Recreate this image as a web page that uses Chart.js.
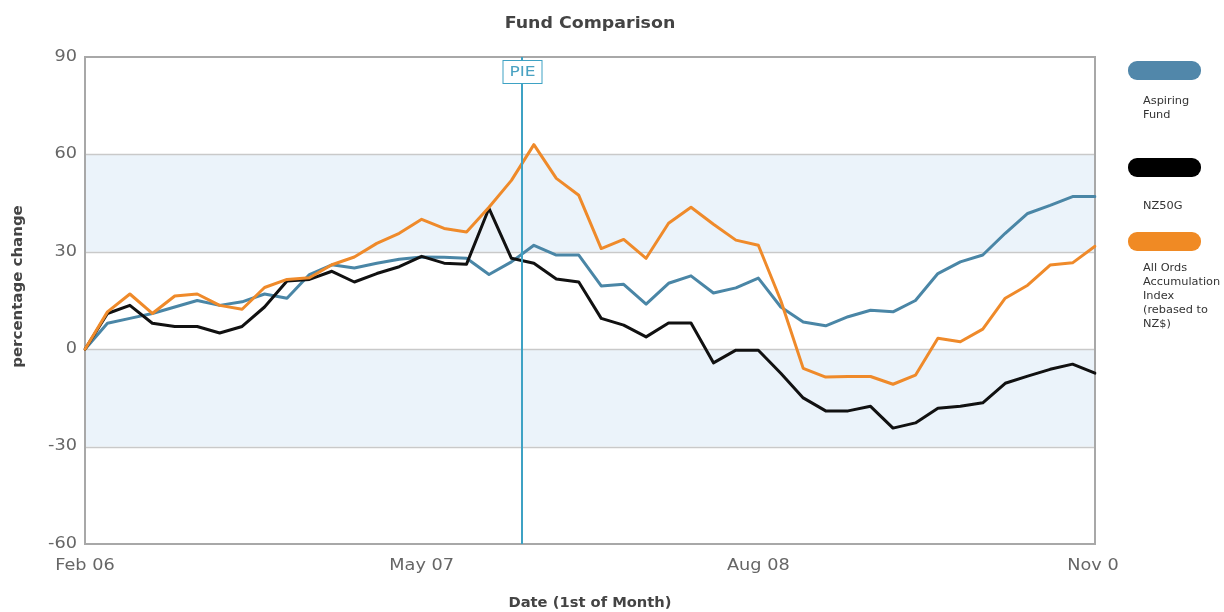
<!DOCTYPE html>
<html><head><meta charset="utf-8">
<script src="https://cdn.jsdelivr.net/npm/chart.js@4/dist/chart.umd.min.js"></script>
<style>html,body{margin:0;padding:0;background:#fff;} #wrap{width:1224px;height:612px;position:relative}</style>
</head><body><div id="wrap"><canvas id="c" width="1224" height="612"></canvas></div>
<script>
const months = ['Feb 06','Mar 06','Apr 06','May 06','Jun 06','Jul 06','Aug 06','Sep 06','Oct 06','Nov 06','Dec 06',
  'Jan 07','Feb 07','Mar 07','Apr 07','May 07','Jun 07','Jul 07','Aug 07','Sep 07','Oct 07','Nov 07','Dec 07',
  'Jan 08','Feb 08','Mar 08','Apr 08','May 08','Jun 08','Jul 08','Aug 08','Sep 08','Oct 08','Nov 08','Dec 08',
  'Jan 09','Feb 09','Mar 09','Apr 09','May 09','Jun 09','Jul 09','Aug 09','Sep 09','Oct 09','Nov 09'];
const aspiringFund = [0,8,9.5,11,13,15,13.5,14.6,17,15.7,23,26,25,26.5,27.7,28.4,28.3,28,23,26.9,32,29,29,19.5,20,13.9,20.3,22.6,17.3,18.9,21.9,13,8.4,7.2,10,12,11.5,15,23.3,26.9,29,35.7,41.8,44.3,47,47];
const nz50g = [0,11,13.5,8,7,7,5,7,13,21,21.5,24,20.7,23.3,25.4,28.6,26.5,26.2,43.4,28,26.5,21.6,20.7,9.5,7.4,3.8,8.1,8.1,-4.2,-0.3,-0.3,-7.4,-15,-19,-19,-17.6,-24.3,-22.7,-18.2,-17.6,-16.5,-10.5,-8.3,-6.2,-4.6,-7.4];
const allOrds = [0,11.5,17,11,16.4,17,13.5,12.3,19,21.5,22,26,28.4,32.6,35.7,40,37.2,36.1,43.7,52,63,52.6,47.4,31,33.8,28,38.8,43.7,38.5,33.6,32,15,-5.9,-8.6,-8.4,-8.4,-10.8,-8,3.4,2.3,6.2,15.7,19.7,25.9,26.6,31.7];
const xTickIndex = [0,15,30,45];
const xTickLabels = ['Feb 06','May 07','Aug 08','Nov 0'];
const yTickValues = [90,60,30,0,-30,-60];
const shadedBands = [[30,60],[-30,0]];
const pieMarkerIndex = 19.46;
const pieMarkerLabel = 'PIE';
const seriesNames = ['Aspiring Fund','NZ50G','All Ords Accumulation Index (rebased to NZ$)'];
const legendLines = [['Aspiring','Fund'],['NZ50G'],['All Ords','Accumulation','Index','(rebased to','NZ$)']];
const colors = ['#4a86a6','#111111','#ef8a2a'];
const swatchColors = ['#5187aa','#000000','#f08a24'];

const FONT = '"DejaVu Sans", Verdana, sans-serif';

function stretchText(ctx, text, x, y, align, sx) {
  ctx.save();
  ctx.translate(x, y);
  ctx.scale(sx, 1);
  ctx.textAlign = align;
  ctx.fillText(text, 0, 0);
  ctx.restore();
}

const decor = {
  id: 'decor',
  beforeDatasetsDraw(chart) {
    const {ctx, chartArea: a, scales: {y}} = chart;
    ctx.save();
    ctx.fillStyle = '#ebf3fa';
    shadedBands.forEach(([lo, hi]) => {
      const yt = y.getPixelForValue(hi), yb = y.getPixelForValue(lo);
      ctx.fillRect(a.left, yt, a.right - a.left, yb - yt);
    });
    ctx.strokeStyle = '#c9c9c9';
    ctx.lineWidth = 1.5;
    yTickValues.slice(1, -1).forEach(v => {
      const yy = Math.round(y.getPixelForValue(v)) + 0.5;
      ctx.beginPath(); ctx.moveTo(a.left, yy); ctx.lineTo(a.right, yy); ctx.stroke();
    });
    ctx.strokeStyle = '#a8a8a8';
    ctx.lineWidth = 2;
    ctx.strokeRect(a.left, a.top, a.right - a.left, a.bottom - a.top);
    ctx.restore();
  },
  afterDatasetsDraw(chart) {
    const {ctx, chartArea: a, scales: {x}} = chart;
    ctx.save();
    const px = Math.round(x.getPixelForValue(pieMarkerIndex));
    ctx.strokeStyle = '#3ea2c4';
    ctx.lineWidth = 2;
    ctx.beginPath(); ctx.moveTo(px, a.top); ctx.lineTo(px, a.bottom); ctx.stroke();
    const w = 39;
    ctx.fillStyle = '#fff';
    ctx.fillRect(px - w/2, a.top + 3, w, 23);
    ctx.lineWidth = 1;
    ctx.strokeRect(px - w/2 + 0.5, a.top + 3.5, w, 23);
    ctx.fillStyle = '#4aa2c2';
    ctx.font = '14px ' + FONT;
    ctx.textBaseline = 'middle';
    stretchText(ctx, pieMarkerLabel, px + 0.5, a.top + 15.5, 'center', 1.22);
    ctx.restore();
  },
  afterDraw(chart) {
    const {ctx, chartArea: a, scales: {x, y}} = chart;
    ctx.save();
    ctx.textBaseline = 'middle';
    // y tick labels
    ctx.font = '15px ' + FONT;
    ctx.fillStyle = '#666';
    yTickValues.forEach(v => {
      stretchText(ctx, String(v), a.left - 8, y.getPixelForValue(v), 'right', 1.18);
    });
    // x tick labels
    xTickIndex.forEach((idx, i) => {
      stretchText(ctx, xTickLabels[i], x.getPixelForValue(idx) + (i === 3 ? -2 : 0), a.bottom + 22, 'center', 1.18);
    });
    // titles
    ctx.fillStyle = '#444';
    ctx.font = 'bold 15px ' + FONT;
    stretchText(ctx, 'Fund Comparison', (a.left + a.right) / 2, 24, 'center', 1.16);
    ctx.font = 'bold 14px ' + FONT;
    stretchText(ctx, 'Date (1st of Month)', (a.left + a.right) / 2, 603, 'center', 1.05);
    ctx.save();
    ctx.translate(18, (a.top + a.bottom) / 2 - 14);
    ctx.rotate(-Math.PI / 2);
    stretchText(ctx, 'percentage change', 0, 0, 'center', 1.07);
    ctx.restore();
    // legend
    const swY = [61, 158, 232];
    const txtY = [101, 206, 268];
    legendLines.forEach((lines, i) => {
      ctx.fillStyle = swatchColors[i];
      ctx.beginPath();
      ctx.roundRect(1128, swY[i], 73, 19, 9);
      ctx.fill();
      ctx.fillStyle = '#333';
      ctx.font = '11px ' + FONT;
      lines.forEach((t, j) => stretchText(ctx, t, 1143, txtY[i] + j * 14, 'left', 1.03));
    });
    ctx.restore();
  }
};

const ds = (label, data, color, order) => ({
  label, data, borderColor: color, backgroundColor: color, borderWidth: 3,
  pointRadius: 0, tension: 0, order, borderJoinStyle: 'round', borderCapStyle: 'round'
});

new Chart(document.getElementById('c'), {
  type: 'line',
  data: {
    labels: months,
    datasets: [
      ds(seriesNames[0], aspiringFund, colors[0], 3),
      ds(seriesNames[1], nz50g, colors[1], 2),
      ds(seriesNames[2], allOrds, colors[2], 1)
    ]
  },
  options: {
    responsive: false, animation: false, devicePixelRatio: 1,
    layout: { padding: { top: 57, right: 129, left: 0, bottom: 0 } },
    plugins: { legend: { display: false }, tooltip: { enabled: false }, title: { display: false } },
    scales: {
      x: {
        type: 'category', offset: false,
        grid: { display: false }, border: { display: false },
        ticks: { display: false },
        afterFit(s) { s.height = 612 - 544; }
      },
      y: {
        min: -60, max: 90,
        afterBuildTicks(s) { s.ticks = yTickValues.map(v => ({ value: v })); },
        grid: { display: false, drawTicks: false }, border: { display: false },
        ticks: { display: false },
        afterFit(s) { s.width = 85; }
      }
    }
  },
  plugins: [decor]
});
</script></body></html>
